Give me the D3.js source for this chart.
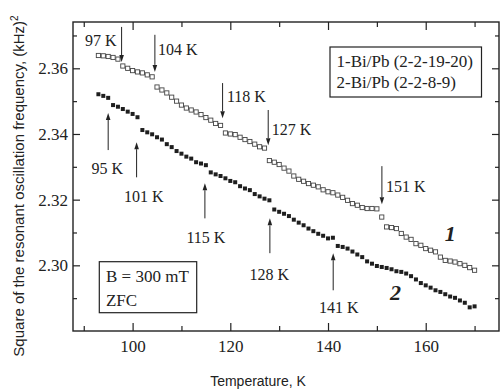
<!DOCTYPE html>
<html>
<head>
<meta charset="utf-8">
<script src="https://cdn.jsdelivr.net/npm/d3@7"></script>
<style>
  body { margin: 0; background: #fff; }
  svg { display: block; }
  .serif { font-family: "Liberation Serif", "Times New Roman", serif; fill: #222; }
  .sans { font-family: "Liberation Sans", Arial, sans-serif; fill: #222; }
</style>
</head>
<body>
<svg id="chart" width="501" height="390"></svg>
<script>
// temperatures, K
var temps = [93, 94, 95, 96, 97, 98, 99, 100, 101, 102, 103, 104, 105, 106, 107, 108, 109, 110,
  111, 112, 113, 114, 115, 116, 117, 118, 119, 120, 121, 122, 123, 124, 125, 126, 127, 128,
  129, 130, 131, 132, 133, 134, 135, 136, 137, 138, 139, 140, 141, 142, 143, 144, 145, 146,
  147, 148, 149, 150, 151, 152, 153, 154, 155, 156, 157, 158, 159, 160, 161, 162, 163, 164,
  165, 166, 167, 168, 169, 170];

// 1-Bi/Pb (2-2-19-20), open squares
var series1 = [2.3639, 2.3638, 2.3636, 2.3633, 2.3628, 2.3607, 2.3600, 2.3593, 2.3589, 2.3586,
  2.3580, 2.3574, 2.3543, 2.3534, 2.3525, 2.3512, 2.3500, 2.3488, 2.3479, 2.3473, 2.3467,
  2.3459, 2.3450, 2.3442, 2.3432, 2.3426, 2.3403, 2.3400, 2.3398, 2.3390, 2.3383, 2.3377,
  2.3369, 2.3361, 2.3357, 2.3319, 2.3314, 2.3307, 2.3296, 2.3287, 2.3272, 2.3262, 2.3256,
  2.3249, 2.3244, 2.3239, 2.3230, 2.3224, 2.3221, 2.3214, 2.3207, 2.3198, 2.3188, 2.3183,
  2.3176, 2.3173, 2.3173, 2.3172, 2.3147, 2.3117, 2.3115, 2.3112, 2.3097, 2.3086, 2.3079,
  2.3066, 2.3061, 2.3051, 2.3046, 2.3041, 2.3025, 2.3015, 2.3013, 2.3010, 2.3005, 2.3000,
  2.2993, 2.2985];

// 2-Bi/Pb (2-2-8-9), filled squares
var series2 = [2.3521, 2.3516, 2.3510, 2.3488, 2.3483, 2.3476, 2.3468, 2.3461, 2.3451, 2.3412,
  2.3405, 2.3399, 2.3390, 2.3383, 2.3369, 2.3360, 2.3348, 2.3340, 2.3331, 2.3325, 2.3314,
  2.3310, 2.3305, 2.3283, 2.3277, 2.3272, 2.3265, 2.3257, 2.3253, 2.3241, 2.3234, 2.3229,
  2.3217, 2.3210, 2.3203, 2.3198, 2.3170, 2.3163, 2.3157, 2.3150, 2.3139, 2.3130, 2.3122,
  2.3112, 2.3104, 2.3096, 2.3090, 2.3082, 2.3084, 2.3059, 2.3056, 2.3051, 2.3042, 2.3033,
  2.3025, 2.3012, 2.3005, 2.2998, 2.2995, 2.2992, 2.2988, 2.2982, 2.2980, 2.2975, 2.2967,
  2.2957, 2.2946, 2.2939, 2.2932, 2.2924, 2.2919, 2.2912, 2.2905, 2.2901, 2.2893, 2.2886,
  2.2872, 2.2875];

var xTicks = [100, 120, 140, 160];
var xMinor = [90, 110, 130, 150, 170];
var yTicks = [2.30, 2.32, 2.34, 2.36];
var yMinor = [2.29, 2.31, 2.33, 2.35, 2.37];

// arrows marking the transitions: x, tail value, tip value, label, label x, label value
var arrowLabels = ["97 K", "104 K", "118 K", "127 K", "151 K", "95 K", "101 K", "115 K", "128 K", "141 K"];
var arrowT     = [97.75, 104.56, 118.42, 127.76, 151.03, 95.0, 100.82, 114.8, 128.1, 141.06];
var arrowTail  = [2.3726, 2.3702, 2.3555, 2.3473, 2.3302, 2.3351, 2.3268, 2.3143, 2.3037, 2.2924];
var arrowTip   = [2.3619, 2.3589, 2.3448, 2.3366, 2.3186, 2.3464, 2.3375, 2.3250, 2.3143, 2.3037];
var labelT     = [90.24, 105.18, 119.3, 128.5, 151.85, 94.84, 102.31, 115.0, 128.0, 142.2];
var labelV     = [2.3668, 2.3641, 2.3497, 2.3397, 2.3223, 2.3278, 2.3192, 2.3067, 2.2954, 2.2854];
var labelAnchor = ["start", "start", "start", "start", "start", "middle", "middle", "middle", "middle", "middle"];

var legendLines = ["1-Bi/Pb (2-2-19-20)", "2-Bi/Pb (2-2-8-9)"];
var condLines = ["B = 300 mT", "ZFC"];

var svg = d3.select("#chart"),
  margin = { top: 22, right: 2, bottom: 59, left: 73 },
  width = +svg.attr("width") - margin.left - margin.right,
  height = +svg.attr("height") - margin.top - margin.bottom;

var x = d3.scaleLinear().domain([87.8, 175]).range([0, width]);
var y = d3.scaleLinear().domain([2.28, 2.3741]).range([height, 0]);

var g = svg.append("g").attr("transform", "translate(" + margin.left + "," + margin.top + ")");

function styleAxis(sel) {
  sel.select(".domain").remove();
  sel.selectAll("line").attr("stroke", "#222").attr("stroke-width", 1.2);
  sel.selectAll("text").attr("class", "serif").style("font-size", "17px").attr("fill", "#222");
}

// bottom axis
g.append("g").attr("transform", "translate(0," + height + ")")
  .call(d3.axisBottom(x).tickValues(xTicks).tickSizeInner(-8).tickSizeOuter(0).tickPadding(8.6).tickFormat(d3.format("d")))
  .call(styleAxis);
g.append("g").attr("transform", "translate(0," + height + ")")
  .call(d3.axisBottom(x).tickValues(xMinor).tickSizeInner(-5).tickSizeOuter(0).tickFormat(""))
  .call(styleAxis);
// top axis
g.append("g")
  .call(d3.axisTop(x).tickValues(xTicks).tickSizeInner(-8).tickSizeOuter(0).tickFormat(""))
  .call(styleAxis);
g.append("g")
  .call(d3.axisTop(x).tickValues(xMinor).tickSizeInner(-5).tickSizeOuter(0).tickFormat(""))
  .call(styleAxis);
// left axis
g.append("g")
  .call(d3.axisLeft(y).tickValues(yTicks).tickSizeInner(-7).tickSizeOuter(0).tickPadding(5).tickFormat(d3.format(".2f")))
  .call(styleAxis);
g.append("g")
  .call(d3.axisLeft(y).tickValues(yMinor).tickSizeInner(-4).tickSizeOuter(0).tickFormat(""))
  .call(styleAxis);
// right axis
g.append("g").attr("transform", "translate(" + width + ",0)")
  .call(d3.axisRight(y).tickValues(yTicks).tickSizeInner(-7).tickSizeOuter(0).tickFormat(""))
  .call(styleAxis);
g.append("g").attr("transform", "translate(" + width + ",0)")
  .call(d3.axisRight(y).tickValues(yMinor).tickSizeInner(-4).tickSizeOuter(0).tickFormat(""))
  .call(styleAxis);

// frame
g.append("rect")
  .attr("width", width).attr("height", height)
  .attr("fill", "none").attr("stroke", "#222").attr("stroke-width", 1.4);

// data
var pts1 = temps.map(function (t, i) { return { t: t, v: series1[i] }; });
var pts2 = temps.map(function (t, i) { return { t: t, v: series2[i] }; });

g.selectAll(".s2").data(pts2).enter().append("rect")
  .attr("class", "s2")
  .attr("x", function (d) { return x(d.t) - 2; })
  .attr("y", function (d) { return y(d.v) - 2; })
  .attr("width", 4).attr("height", 4)
  .attr("fill", "#1e1e1e");

g.selectAll(".s1").data(pts1).enter().append("rect")
  .attr("class", "s1")
  .attr("x", function (d) { return x(d.t) - 2.1; })
  .attr("y", function (d) { return y(d.v) - 2.1; })
  .attr("width", 4.2).attr("height", 4.2)
  .attr("fill", "#fff").attr("stroke", "#444").attr("stroke-width", 0.9);

// arrows
arrowT.forEach(function (t, i) {
  var ax = x(t), y0 = y(arrowTail[i]), y1 = y(arrowTip[i]);
  var dir = y1 > y0 ? 1 : -1, head = 7;
  g.append("line")
    .attr("x1", ax).attr("y1", y0).attr("x2", ax).attr("y2", y1 - dir * head)
    .attr("stroke", "#222").attr("stroke-width", 1);
  g.append("path")
    .attr("d", "M" + ax + "," + y1 + "L" + (ax - 2.3) + "," + (y1 - dir * head) + "L" + (ax + 2.3) + "," + (y1 - dir * head) + "Z")
    .attr("fill", "#222");
  g.append("text")
    .attr("class", "serif")
    .attr("x", x(labelT[i])).attr("y", y(labelV[i]))
    .attr("text-anchor", labelAnchor[i])
    .style("font-size", "16px")
    .text(arrowLabels[i]);
});

// series numbers
g.append("text").attr("class", "serif")
  .attr("x", x(163.9)).attr("y", y(2.3073))
  .style("font-size", "22px").style("font-style", "italic").style("font-weight", "bold")
  .text("1");
g.append("text").attr("class", "serif")
  .attr("x", x(152.7)).attr("y", y(2.2893))
  .style("font-size", "22px").style("font-style", "italic").style("font-weight", "bold")
  .text("2");

// legend box (top right)
var leg = g.append("g").attr("transform", "translate(" + (width - 169) + ",25)");
leg.append("rect").attr("width", 151.5).attr("height", 50)
  .attr("fill", "#fff").attr("stroke", "#222").attr("stroke-width", 1.2);
leg.selectAll("text").data(legendLines).enter().append("text")
  .attr("class", "serif")
  .attr("x", 6.5).attr("y", function (d, i) { return 19.5 + i * 21.7; })
  .style("font-size", "17px")
  .text(function (d) { return d; });

// field box (bottom left)
var cond = g.append("g").attr("transform", "translate(26.3," + (height - 69.3) + ")");
cond.append("rect").attr("width", 97.4).attr("height", 51)
  .attr("fill", "#fff").attr("stroke", "#222").attr("stroke-width", 1.2);
cond.selectAll("text").data(condLines).enter().append("text")
  .attr("class", "serif")
  .attr("x", 6.7).attr("y", function (d, i) { return 20 + i * 24.3; })
  .style("font-size", "17px")
  .text(function (d) { return d; });

// axis titles
svg.append("text").attr("class", "sans")
  .attr("x", margin.left + width / 2 - 28).attr("y", 386)
  .attr("text-anchor", "middle")
  .style("font-size", "14px")
  .text("Temperature, K");

var yt = svg.append("text").attr("class", "sans")
  .attr("transform", "translate(23.5,186) rotate(-90)")
  .attr("text-anchor", "middle")
  .style("font-size", "15px");
yt.append("tspan").text("Square of the resonant oscillation frequency, (kHz)");
yt.append("tspan").attr("dy", -6).style("font-size", "10px").text("2");
</script>
</body>
</html>
